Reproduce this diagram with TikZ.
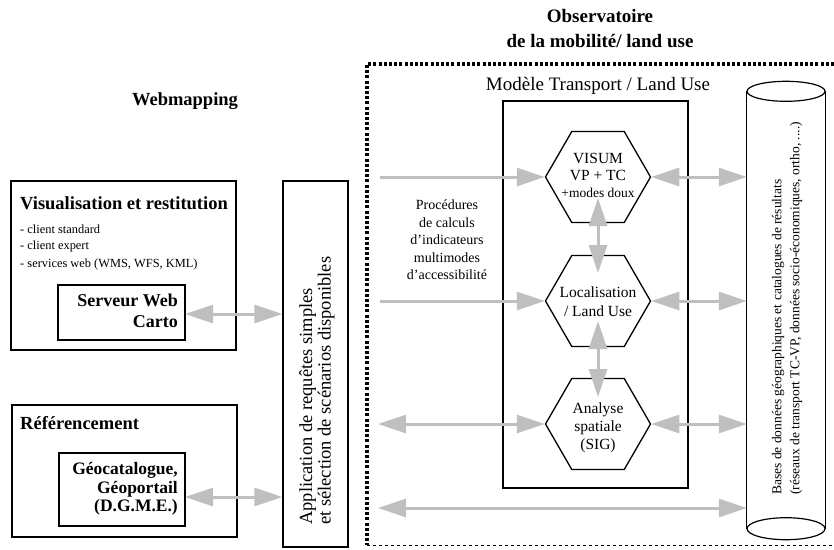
\documentclass[tikz,border=0pt]{standalone}
\usepackage{fontspec}
\setmainfont{Liberation Serif}
\usetikzlibrary{arrows.meta,shapes.geometric,calc}
\begin{document}
\begin{tikzpicture}[x=1pt,y=-1pt,
  box/.style={draw,line width=1.2pt,inner sep=0pt},
  hexa/.style={draw,line width=1.3pt,regular polygon,regular polygon sides=6,minimum size=105pt,inner sep=0pt},
  hext/.style={align=center,inner sep=0pt,font=\fontsize{15.5}{17}\selectfont},
  tip/.tip={Triangle[length=28pt,width=18pt]},
  garrow/.style={draw=gray!50,line width=3pt,-tip},
  gdouble/.style={draw=gray!50,line width=3pt,tip-tip},
  ttl/.style={font=\bfseries\fontsize{19}{22}\selectfont,inner sep=0pt},
  hd/.style={font=\bfseries\fontsize{18.5}{20}\selectfont,inner sep=0pt,anchor=west},
  itm/.style={font=\fontsize{12.4}{14}\selectfont,inner sep=0pt,anchor=west},
  inb/.style={font=\bfseries\fontsize{18}{21}\selectfont,inner sep=0pt,anchor=east,align=right}]
\useasboundingbox (0,0) rectangle (834,549);
% titles
\node[ttl] (obs1) at (600,16) {Observatoire};
\node[ttl] (obs2) at (600,41) {de la mobilité/ land use};
\node[hd,anchor=center] (web) at (185,101) {Webmapping};
% observatory frame
\draw[line width=3.5pt,dash pattern=on 3pt off 2.2pt] (834,64) -- (367,64) -- (367,545);
\draw[line width=0.8pt,dashed] (367,545) -- (834,545);
% Visualisation box
\node[box,minimum width=225pt,minimum height=169pt] (visbox) at (123.5,265.5) {};
\node[hd] (vistitle) at (20,203) {Visualisation et restitution};
\node[itm] (i1) at (20,229) {- client standard};
\node[itm] (i2) at (20,247) {- client expert};
\node[itm] (i3) at (20,265) {- services web (WMS, WFS, KML)};
\node[box,minimum width=127pt,minimum height=55pt] (serv) at (121.5,312.5) {};
\node[inb] (servt) at (178,311) {Serveur Web\\Carto};
% Referencement
\node[box,minimum width=225pt,minimum height=132pt] (refbox) at (124.5,471) {};
\node[hd] (reftitle) at (20,423) {Référencement};
\node[box,minimum width=126pt,minimum height=73pt] (geo) at (122,489.5) {};
\node[inb,font=\bfseries\fontsize{17.5}{18.7}\selectfont] (geot) at (178,489) {Géocatalogue,\\Géoportail\\(D.G.M.E.)};
% application box
\node[box,minimum width=65pt,minimum height=366pt] (app) at (315.5,364) {};
\node[rotate=90,anchor=west,align=left,inner sep=0pt,font=\fontsize{18.5}{18.5}\selectfont] (appt) at (317,525) {Application de requêtes simples\\et sélection de scénarios disponibles};
% model
\node[font=\fontsize{19}{22}\selectfont,inner sep=0pt] (modt) at (598,86) {Modèle Transport / Land Use};
\node[box,minimum width=185pt,minimum height=387pt] (model) at (595.5,294.5) {};
\node[hexa] (vis) at (598,177) {};
\node[hexa] (loc) at (598,301) {};
\node[hexa] (ana) at (598,424) {};
\node[hext] (vist) at (598,175) {VISUM\\VP + TC\\{\fontsize{13.5}{15}\selectfont +modes doux}};
\node[hext,font=\fontsize{15.5}{19}\selectfont] (loct) at (598,302) {Localisation\\/ Land Use};
\node[hext,font=\fontsize{15.5}{18}\selectfont] (anat) at (598,428) {Analyse\\spatiale\\(SIG)};
\node[align=center,inner sep=0pt,font=\fontsize{14}{17.5}\selectfont] (proc) at (447,240) {Procédures\\de calculs\\d'indicateurs\\multimodes\\d'accessibilité};
% database cylinder
\node[minimum width=78pt,minimum height=437pt,inner sep=0pt] (db) at (786,310) {};
\draw[line width=1.2pt] (db.north west) -- (db.south west) (db.north east) -- (db.south east);
\draw[line width=1.2pt,fill=white] (db.north) ellipse [x radius=39pt,y radius=10pt];
\draw[line width=1.2pt] (db.south) ellipse [x radius=39pt,y radius=11pt];
\node[rotate=90,anchor=west,align=left,inner sep=0pt,font=\fontsize{13.5}{18}\selectfont] (dbt) at (787,495) {Bases de données géographiques et catalogues de résultats\\(réseaux de transport TC-VP, données socio-économiques, ortho, ....)};
% connector coordinates
\coordinate (l1) at (380,177);
\coordinate (l2) at (380,301);
\coordinate (l3) at (378,424);
\coordinate (l4) at (378,508);
\coordinate (v1) at (598,198);
\coordinate (v2) at (598,273);
\coordinate (v3) at (598,321);
\coordinate (v4) at (598,397);
\coordinate (s1) at (185,314);
\coordinate (g1) at (185,497);
% connectors
\draw[garrow] (l1) -- (vis.west);
\draw[garrow] (l2) -- (loc.west);
\draw[gdouble] (l3) -- (ana.west);
\draw[gdouble] (l4) -- (l4 -| db.west);
\draw[gdouble] (vis.east) -- (vis.east -| db.west);
\draw[gdouble] (loc.east) -- (loc.east -| db.west);
\draw[gdouble] (ana.east) -- (ana.east -| db.west);
\draw[gdouble] (v1) -- (v2);
\draw[gdouble] (v3) -- (v4);
\draw[gdouble] (s1) -- (s1 -| app.west);
\draw[gdouble] (g1) -- (g1 -| app.west);
\end{tikzpicture}
\end{document}
